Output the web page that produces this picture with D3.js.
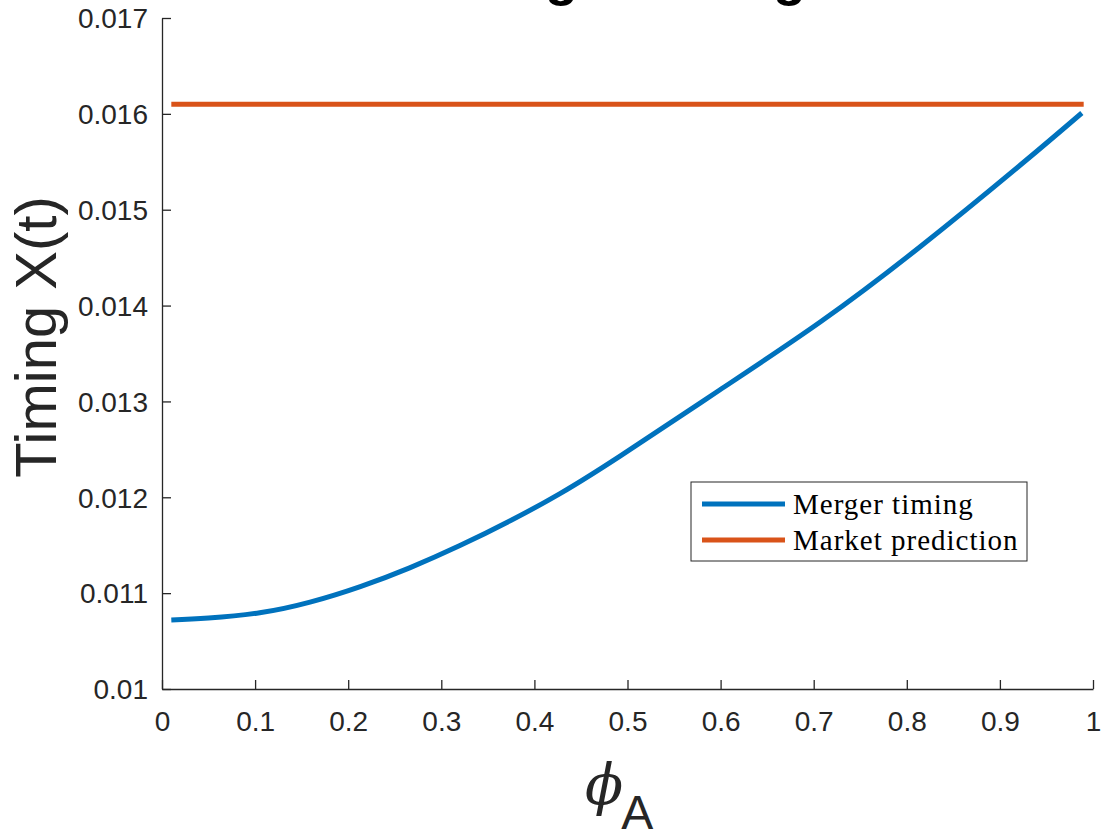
<!DOCTYPE html>
<html>
<head>
<meta charset="utf-8">
<script src="https://cdn.jsdelivr.net/npm/d3@7"></script>
<style>
  html, body { margin: 0; padding: 0; background: #fff; }
  svg { display: block; }
</style>
</head>
<body>
<div id="chart"></div>
<script>
// values
const phi = [0.01, 0.05, 0.105, 0.159, 0.213, 0.266, 0.32, 0.374, 0.427, 0.492, 0.599, 0.707, 0.814, 0.922, 0.988];
const mergerTiming = [0.01072, 0.01074, 0.010795, 0.010906, 0.011068, 0.011264, 0.011496, 0.011755, 0.012036, 0.01243, 0.013119, 0.013828, 0.014611, 0.015466, 0.016009];
const marketPhi = [0.01, 0.99];
const marketPrediction = [0.0161, 0.0161];
const xTicks = [0, 0.1, 0.2, 0.3, 0.4, 0.5, 0.6, 0.7, 0.8, 0.9, 1];
const yTicks = [0.01, 0.011, 0.012, 0.013, 0.014, 0.015, 0.016, 0.017];
const seriesNames = ["Merger timing", "Market prediction"];
const colors = ["#0072BD", "#D95319"];

const width = 1102, height = 830;
const mLeft = 162, mRight = 1093, mTop = 18, mBottom = 689;
const axisColor = "#262626";

const x = d3.scaleLinear().domain([0, 1]).range([mLeft, mRight]);
const y = d3.scaleLinear().domain([0.01, 0.017]).range([mBottom, mTop]);

const svg = d3.select("#chart").append("svg")
    .attr("width", width)
    .attr("height", height)
    .attr("font-family", "'Liberation Sans', Arial, sans-serif");

// title, mostly above the top edge
svg.append("text")
    .attr("x", (mLeft + mRight) / 2)
    .attr("y", -5)
    .attr("text-anchor", "middle")
    .attr("font-size", 54)
    .attr("font-weight", "bold")
    .attr("fill", "#000")
    .text("Merger timing");

// axes
const xAxis = svg.append("g")
    .attr("transform", `translate(0,${mBottom})`)
    .call(d3.axisBottom(x).tickValues(xTicks).tickSizeInner(-9).tickSizeOuter(0)
        .tickPadding(22).tickFormat(d3.format("")));
const yAxis = svg.append("g")
    .attr("transform", `translate(${mLeft},0)`)
    .call(d3.axisLeft(y).tickValues(yTicks).tickSizeInner(-9).tickSizeOuter(0)
        .tickPadding(14).tickFormat(d => d3.format("")(+d.toFixed(3))));

[xAxis, yAxis].forEach(g => {
  g.select(".domain").attr("stroke", axisColor).attr("stroke-width", 1.3);
  g.selectAll(".tick line").attr("stroke", axisColor).attr("stroke-width", 1.3);
  g.selectAll(".tick text").attr("fill", axisColor).attr("font-size", 28)
      .attr("font-family", "'Liberation Sans', Arial, sans-serif");
});
xAxis.selectAll(".tick text").attr("dy", "0.71em");
yAxis.selectAll(".tick text").attr("dy", "0.35em");

// lines
const line = d3.line().x(d => x(d[0])).y(d => y(d[1])).curve(d3.curveNatural);
svg.append("path")
    .datum(marketPhi.map((p, i) => [p, marketPrediction[i]]))
    .attr("d", line)
    .attr("fill", "none")
    .attr("stroke", colors[1])
    .attr("stroke-width", 5);
svg.append("path")
    .datum(phi.map((p, i) => [p, mergerTiming[i]]))
    .attr("d", line)
    .attr("fill", "none")
    .attr("stroke", colors[0])
    .attr("stroke-width", 5);

// axis labels
svg.append("text")
    .attr("transform", "translate(56,337) rotate(-90)")
    .attr("text-anchor", "middle")
    .attr("font-size", 58)
    .attr("fill", axisColor)
    .text("Timing X(t)");

const xl = svg.append("text")
    .attr("x", 585)
    .attr("y", 804)
    .attr("fill", axisColor);
xl.append("tspan")
    .attr("font-family", "'DejaVu Serif', serif")
    .attr("font-style", "italic")
    .attr("font-size", 56)
    .text("\u03D5");
xl.append("tspan")
    .attr("dx", -2)
    .attr("dy", 25)
    .attr("font-size", 48)
    .text("A");

// legend
const legend = svg.append("g").attr("transform", "translate(691,482)");
legend.append("rect")
    .attr("width", 336).attr("height", 79)
    .attr("fill", "#fff")
    .attr("stroke", axisColor)
    .attr("stroke-width", 1);
seriesNames.forEach((name, i) => {
  const ly = 22 + i * 36;
  legend.append("line")
      .attr("x1", 11).attr("x2", 94)
      .attr("y1", ly).attr("y2", ly)
      .attr("stroke", colors[i])
      .attr("stroke-width", 5);
  legend.append("text")
      .attr("x", 102).attr("y", ly)
      .attr("dy", "0.33em")
      .attr("font-family", "'Liberation Serif', 'Times New Roman', serif")
      .attr("font-size", 29)
      .attr("letter-spacing", 1)
      .attr("fill", "#000")
      .text(name);
});
</script>
</body>
</html>
